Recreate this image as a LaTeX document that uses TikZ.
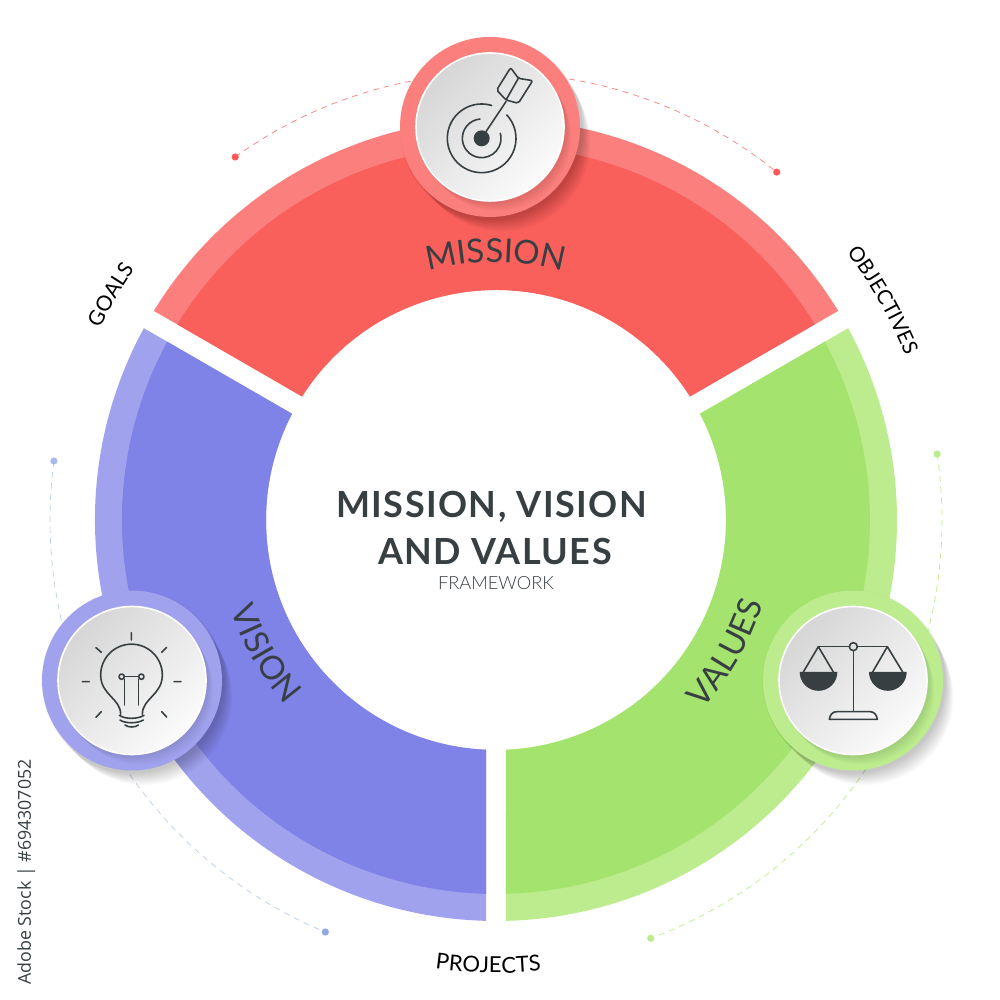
\documentclass[tikz,border=0pt]{standalone}
\usepackage{fontspec}
\usetikzlibrary{decorations.text}
\setmainfont{Lato}
\newfontfamily\titlefont{Lato}[UprightFont=* Bold,LetterSpace=4]
\newfontfamily\lightfont{Lato}[UprightFont=* Light]
\newfontfamily\stockfont{Open Sans}
\definecolor{redD}{HTML}{F9605C}
\definecolor{redL}{HTML}{FB7F7C}
\definecolor{greenD}{HTML}{A5E36F}
\definecolor{greenL}{HTML}{BDEC8E}
\definecolor{blueD}{HTML}{7F83E8}
\definecolor{blueL}{HTML}{A1A2EE}
\definecolor{ink}{HTML}{383F43}
\definecolor{D8}{HTML}{D6D6D6}
\definecolor{F9}{HTML}{FBFBFB}
\definecolor{dashB}{HTML}{BCCFEA}
\definecolor{dotA}{HTML}{A9BBEA}
\definecolor{dotB}{HTML}{8FA8E2}
\tikzset{
  iconline/.style={draw=ink,line width=0.8pt,line cap=round,line join=round},
  iconfill/.style={fill=ink},
  disc/.style={top color=D8,bottom color=F9,shading angle=45,draw=white,line width=0.8pt},
  dashline/.style={line width=0.35pt,dash pattern=on 3pt off 2.5pt},
  ringlabel/.style={decorate,decoration={text along path,text align=center,text={#1}}},
}
\newcommand{\sector}[5]{% from, to, outer, inner, colour
  \pgfmathsetmacro{\dO}{asin(10/#3)}
  \pgfmathsetmacro{\dI}{asin(10/#4)}
  \pgfmathsetmacro{\aA}{#1+\dO}
  \pgfmathsetmacro{\aB}{#2-\dO}
  \pgfmathsetmacro{\aC}{#2-\dI}
  \pgfmathsetmacro{\aD}{#1+\dI}
  \fill[#5] (\aA:#3) arc[start angle=\aA,end angle=\aB,radius=#3] -- (\aC:#4) arc[start angle=\aC,end angle=\aD,radius=#4] -- cycle;
}
\newcommand{\softshadow}[5]{% x, y, r, steps, opacity
  \foreach \k in {1,...,#4}
    \fill[black,opacity=#5] ({#1+0.9*\k},{#2-1.2*\k}) circle[radius={#3+2-0.3*\k}];
}
\newcommand{\badge}[3]{% x, y, colour
  \softshadow{#1}{#2}{90}{14}{0.014}
  \fill[#3] (#1,#2) circle[radius=90];
  \softshadow{#1}{#2}{74}{9}{0.012}
  \shade[disc] (#1,#2) circle[radius=74];
}
\begin{document}
\begin{tikzpicture}[x=0.5pt,y=0.5pt]
\useasboundingbox (0,0) rectangle (1000,1000);
\fill[white] (0,0) rectangle (1000,1000);
% ring
\begin{scope}[shift={(496,480)}]
  \sector{30}{150}{401}{230}{redL}
  \sector{30}{150}{374}{230}{redD}
  \sector{150}{270}{401}{230}{blueL}
  \sector{150}{270}{374}{230}{blueD}
  \sector{-90}{30}{401}{230}{greenL}
  \sector{-90}{30}{374}{230}{greenD}
  % dashed orbits
  \draw[dashline,draw=redL] (125.7:447) arc[start angle=125.7,end angle=51.1,radius=447];
  \fill[redL!70!red] (125.7:447) circle[radius=3.6];
  \fill[redL!70!red] (51.1:447) circle[radius=3.6];
  \draw[dashline,draw=greenL] (8.5:446) arc[start angle=8.5,end angle=-69.7,radius=446];
  \fill[greenL] (8.5:446) circle[radius=3.6];
  \fill[greenL] (-69.7:446) circle[radius=3.6];
  \draw[dashline,draw=dashB] (172.4:446) arc[start angle=172.4,end angle=247.5,radius=446];
  \fill[dotA] (172.4:446) circle[radius=3.6];
  \fill[dotB] (247.5:446) circle[radius=3.6];
\end{scope}
\badge{490}{873}{redL}
\badge{853}{319.5}{greenL}
\badge{132}{319.5}{blueL}
% curved labels
\begin{scope}[shift={(496,480)}]
  \path[ringlabel={|\fontsize{16.5}{16.5}\selectfont\color{ink}|MISSION}] (125:258) arc[start angle=125,end angle=55,radius=258];
  \path[ringlabel={|\fontsize{16.5}{16.5}\selectfont\color{ink}|VALUES}] (-60:280) arc[start angle=-60,end angle=0,radius=280];
  \path[ringlabel={|\fontsize{16.5}{16.5}\selectfont\color{ink}|VISION}] (180:280) arc[start angle=180,end angle=240,radius=280];
  \path[ringlabel={|\fontsize{10.5}{10.5}\selectfont\color{black}|GOALS}] (170:440) arc[start angle=170,end angle=129.4,radius=440];
  \path[ringlabel={|\fontsize{10.3}{10.3}\selectfont\color{black}|OBJECTIVES}] (50:441) arc[start angle=50,end angle=9.2,radius=441];
  \path[ringlabel={|\fontsize{11}{11}\selectfont\color{black}|PROJECTS}] (-111:453) arc[start angle=-111,end angle=-71,radius=453];
\end{scope}
% centre title
\node[anchor=base,inner sep=0pt,text=ink,font=\titlefont\fontsize{18}{18}\selectfont] (titleA) at (491.5,482) {MISSION, VISION};
\node[anchor=base,inner sep=0pt,text=ink,font=\titlefont\fontsize{18}{18}\selectfont] (titleB) at (495,435) {AND VALUES};
\node[anchor=base,inner sep=0pt,text=ink,font=\lightfont\fontsize{9.1}{9.1}\selectfont] (titleC) at (496,410) {FRAMEWORK};
\node[anchor=base west,inner sep=0pt,rotate=90,text=ink,font=\stockfont\fontsize{8.9}{8.9}\selectfont] (stock) at (31,15) {Adobe Stock | \#694307052};
% target icon (crop coordinates: 3 units per pixel, y downward)
\begin{scope}[shift={(380,980)},scale=1/3,yscale=-1]
  \fill[iconfill] (305,355) circle[radius=24];
  \draw[iconline] (305,355) ++(-95:58) arc[start angle=-95,end angle=-375,radius=58];
  \draw[iconline] (305,355) ++(-73:103) arc[start angle=-73,end angle=-403,radius=103];
  \draw[iconline] (318,335) -- (378,245);
  \draw[iconline,rounded corners=1pt] (392,143) -- (415,175) -- (458,182) -- (415,250) -- (378,240) -- (350,210) -- cycle;
  \draw[iconline] (415,175) -- (378,240);
\end{scope}
% scales icon
\begin{scope}[shift={(750,420)},scale=1/3,yscale=-1]
  \draw[iconline] (205,200) -- (298,200) (322,200) -- (412,200);
  \draw[iconline] (310,200) circle[radius=12];
  \draw[iconline] (310,212) -- (310,393);
  \draw[iconline] (238,418) .. controls (240,404) and (248,395) .. (260,395) -- (360,395) .. controls (372,395) and (380,404) .. (382,418) -- cycle;
  \draw[iconline] (160,276) -- (205,200) -- (250,276);
  \draw[iconline] (368,276) -- (412,200) -- (458,276);
  \fill[iconfill] (149,276) arc[start angle=180,end angle=0,radius=56.5] -- cycle;
  \fill[iconfill] (357,276) arc[start angle=180,end angle=0,radius=56.5] -- cycle;
\end{scope}
% bulb icon
\begin{scope}[shift={(30,420)},scale=1/3,yscale=-1]
  \draw[iconline] (272,403) .. controls (272,355) and (212,345) .. (212,285) arc[start angle=180,end angle=360,radius=92.5] .. controls (397,345) and (337,355) .. (337,403);
  \draw[iconline] (268,406) .. controls (285,418) and (323,418) .. (342,406);
  \draw[iconline] (270,420) .. controls (285,431) and (323,431) .. (340,420);
  \draw[iconline] (285,435) .. controls (295,443) and (315,443) .. (325,435);
  \draw[iconline] (284,298) -- (284,375) (326,298) -- (326,375);
  \draw[iconline] (275,290) circle[radius=8] (334,290) circle[radius=8];
  \draw[iconline] (283,290) -- (326,290);
  \draw[iconline] (304,158) -- (304,180) (198,203) -- (214,217) (410,202) -- (395,217) (157,305) -- (178,305) (432,305) -- (453,305) (214,395) -- (198,412) (395,395) -- (410,411);
\end{scope}
\end{tikzpicture}
\end{document}
